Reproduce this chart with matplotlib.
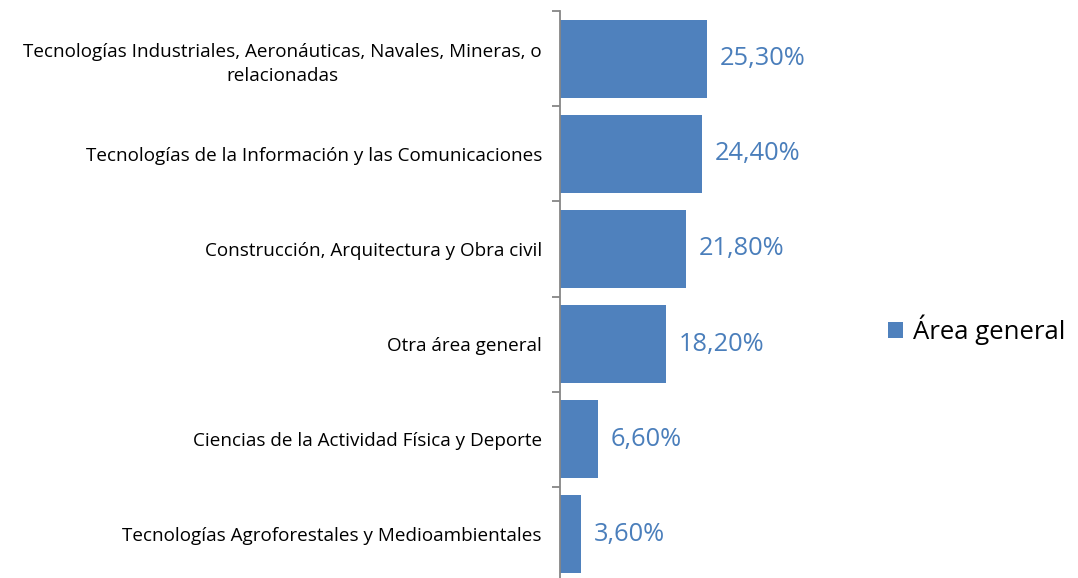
import matplotlib.pyplot as plt

# Data (top to bottom)
categories = [
    'Tecnologías Industriales, Aeronáuticas, Navales, Mineras, o\nrelacionadas',
    'Tecnologías de la Información y las Comunicaciones',
    'Construcción, Arquitectura y Obra civil',
    'Otra área general',
    'Ciencias de la Actividad Física y Deporte',
    'Tecnologías Agroforestales y Medioambientales',
]
values = [25.3, 24.4, 21.8, 18.2, 6.6, 3.6]
value_labels = ['25,30%', '24,40%', '21,80%', '18,20%', '6,60%', '3,60%']
series_name = 'Área general'

bar_color = '#4F81BD'
plt.rcParams['font.family'] = ['Open Sans', 'DejaVu Sans']

fig = plt.figure(figsize=(10.78, 5.78), dpi=100)
ax = fig.add_axes([560 / 1078, -4 / 578, 174 / 1078, 571 / 578])

pos = list(range(len(categories)))
bars = ax.barh(pos, values, height=0.82, color=bar_color, label=series_name)
ax.set_ylim(len(categories) - 0.5, -0.5)
ax.set_xlim(0, 30)

for p, v, lab in zip(pos, values, value_labels):
    ax.text(v + 2.2, p, lab, va='center', ha='left', fontsize=18.3, color='#4A7EBB')

ax.set_yticks(pos)
ax.set_yticklabels(categories, fontsize=13.6, linespacing=1.45)
for t in ax.get_yticklabels():
    t.set_multialignment('center')
# boundary ticks between categories
ax.set_yticks([p - 0.5 for p in pos] + [len(pos) - 0.5], minor=True)
ax.tick_params(axis='y', which='major', length=0, pad=13)
ax.tick_params(axis='y', which='minor', length=6, width=1.3, color='#868686')
ax.set_xticks([])

for s in ['top', 'right', 'bottom']:
    ax.spines[s].set_visible(False)
ax.spines['left'].set_color('#868686')
ax.spines['left'].set_linewidth(1.3)

fig.legend(handles=[bars], labels=[series_name], loc='center left',
           bbox_to_anchor=(880 / 1078, 1 - 330 / 578), frameon=False,
           fontsize=18.5, handlelength=0.6, handleheight=0.6, handletextpad=0.4,
           borderaxespad=0, borderpad=0.3)

fig.savefig('out.png', dpi=100)
